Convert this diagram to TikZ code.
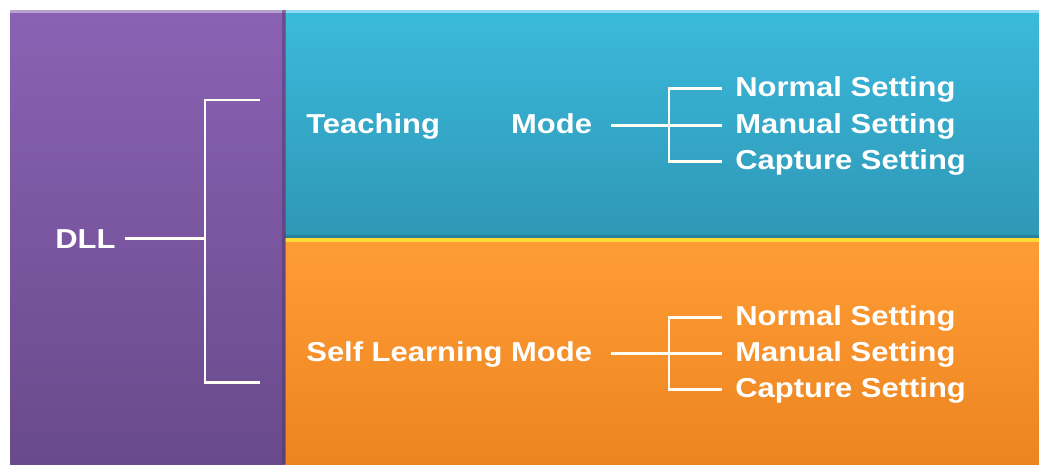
\documentclass[tikz,border=0pt]{standalone}
\usepackage{fontspec}
\setmainfont{Liberation Sans}
\usepackage{graphicx}
\usepackage{calc}
\usepackage{tikz}
\usetikzlibrary{calc}

\definecolor{dllTop}{HTML}{8A62B4}
\definecolor{dllBot}{HTML}{694A8B}
\definecolor{teachTop}{HTML}{3BBADC}
\definecolor{teachBot}{HTML}{2F97B6}
\definecolor{selfTop}{HTML}{FF9D35}
\definecolor{selfBot}{HTML}{EC8420}

\newcommand{\wide}[1]{\scalebox{1.13}[1]{#1}}

\begin{document}
\begin{tikzpicture}[x=0.02cm, y=-0.02cm,
    lbl/.style={text=white, font=\bfseries\fontsize{15.6}{18}\selectfont, inner sep=0pt, anchor=base west},
    wire/.style={draw=white!96!yellow, line width=1.7pt}]
    \useasboundingbox (0,0) rectangle (1039,464);
    \fill[white] (0,0) rectangle (1039,464);

    % panels
    \shade[top color=dllTop, bottom color=dllBot] (10,10) rectangle (285,464);
    \shade[top color=teachTop, bottom color=teachBot] (285,10) rectangle (1039,238);
    \shade[top color=selfTop, bottom color=selfBot] (285,238) rectangle (1039,464);
    \fill[dllTop!60!white] (10,10) rectangle (285,13);
    \fill[cyan!45!white] (285,10) rectangle (1039,13);
    \fill[black!15!teachBot] (285,235) rectangle (1039,238);
    \fill[yellow!70!orange!80!white] (285,238) rectangle (1039,242);
    \fill[black!25!dllBot, opacity=0.5] (282,10) rectangle (286,464);

    % labels
    \node[lbl] (dll) at (55,248) {\wide{DLL}};
    \node[lbl] (tm) at (306,133) {\wide{\makebox[\widthof{Self Learning Mode}][s]{Teaching Mode}}};
    \node[lbl] (sm) at (306,361) {\wide{Self Learning Mode}};

    \node[lbl] (tns) at (735,96) {\wide{Normal Setting}};
    \node[lbl] (tms) at (735,133) {\wide{Manual Setting}};
    \node[lbl] (tcs) at (735,169) {\wide{Capture Setting}};
    \node[lbl] (sns) at (735,325) {\wide{Normal Setting}};
    \node[lbl] (sms) at (735,361) {\wide{Manual Setting}};
    \node[lbl] (scs) at (735,397) {\wide{Capture Setting}};

    % brackets
    \coordinate (ltop) at (260,100);
    \coordinate (lbot) at (260,382);
    \coordinate (lbar) at (205,237);
    \coordinate (tbar) at (669,124);
    \coordinate (sbar) at (669,354);

    \draw[wire] (ltop) -| (lbar) |- (lbot);
    \draw[wire, shorten <=0.18cm] (dll.east) -- (dll.east -| lbar);

    \draw[wire, shorten <=0.26cm, shorten >=0.26cm] (tns.west) -| (tbar) |- (tcs.west);
    \draw[wire, shorten <=0.38cm, shorten >=0.26cm] (tm.east) -- (tm.east -| tms.west);
    \draw[wire, shorten <=0.26cm, shorten >=0.26cm] (sns.west) -| (sbar) |- (scs.west);
    \draw[wire, shorten <=0.38cm, shorten >=0.26cm] (sm.east) -- (sm.east -| sms.west);
\end{tikzpicture}
\end{document}
